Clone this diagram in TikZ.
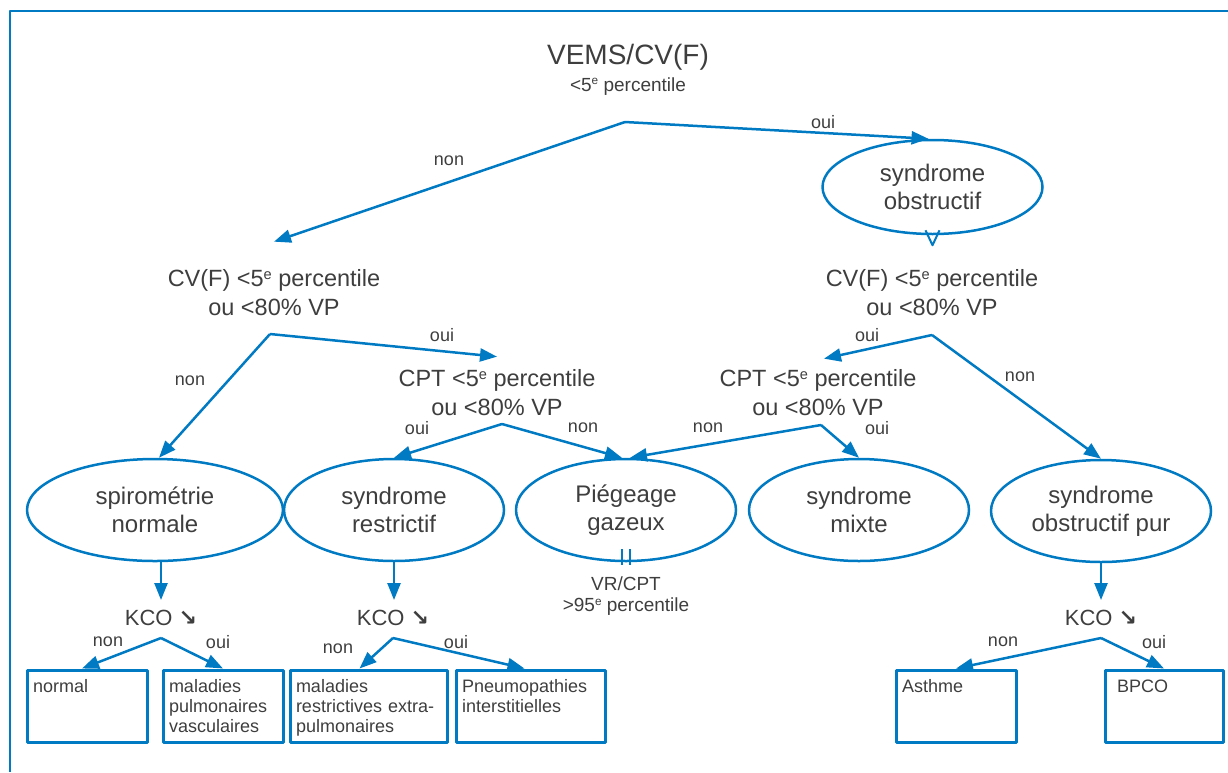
\documentclass[tikz,border=0pt]{standalone}
\usepackage{fontspec}
\setmainfont{Liberation Sans}
\newfontfamily\arrowfont{DejaVu Sans}
\usetikzlibrary{arrows.meta,positioning,shapes.geometric}
\definecolor{lineblue}{RGB}{0,122,194}
\definecolor{ink}{RGB}{62,62,62}
\newcommand{\ordsup}[1]{\raisebox{0.62ex}{\scalebox{0.62}{#1}}}

\begin{document}
\begin{tikzpicture}
    [x=1pt, y=-1pt, line join=round,
    % STYLES
    every node/.style={text=ink, inner sep=0pt},
    % The title style is used for the first test
    title/.style={font=\fontsize{28}{32}\selectfont},
    % The test style is used for the questions of the tree
    test/.style={align=center, font=\fontsize{23.5}{29}\selectfont},
    % The note style is used for the small comments
    note/.style={align=center, font=\fontsize{19}{21}\selectfont},
    % The answer style is used for the oui/non labels
    answer/.style={font=\fontsize{18}{20}\selectfont},
    % The syndrome style is used to draw the ellipses
    syndrome/.style={ellipse, draw=lineblue, line width=2.5pt, minimum width=220pt, minimum height=102pt, align=center, font=\fontsize{24}{28}\selectfont},
    kco/.style={font=\fontsize{22}{24}\selectfont},
    % The disease style is used to draw the final boxes
    disease/.style={rectangle, draw=lineblue, line width=3pt, anchor=north west, align=left, text width=#1, inner xsep=6pt, inner ysep=4pt, text height=18pt, text depth=46pt, font=\fontsize{18}{20}\selectfont},
    link/.style={lineblue, line width=2.5pt, -{Triangle[length=17pt,width=13pt]}}]

    \useasboundingbox (0,0) rectangle (1228,772);
    \draw[lineblue, line width=2pt] (10,772) -- (10,11) -- (1228,11);

    % Draw tests
    \node [title] (vems) at (628,57) {VEMS/CV(F)};
    \node [note, below=7pt of vems] (vemsp) {<5\ordsup{e} percentile};
    \node [test] (cvl) at (274,293) {CV(F) <5\ordsup{e} percentile\\ou <80\% VP};
    \node [test] (cvr) at (932,293) {CV(F) <5\ordsup{e} percentile\\ou <80\% VP};
    \node [test] (cptl) at (497,393) {CPT <5\ordsup{e} percentile\\ou <80\% VP};
    \node [test] (cptr) at (818,393) {CPT <5\ordsup{e} percentile\\ou <80\% VP};

    % Draw syndromes
    \node [syndrome, minimum width=220pt, minimum height=94pt] (obs) at (932.5,187) {syndrome\\obstructif};
    \node [syndrome, minimum width=256pt] (spiro) at (155,510) {spirométrie\\normale};
    \node [syndrome] (restr) at (394,510) {syndrome\\restrictif};
    \node [syndrome] (pieg) at (626,510) {Piégeage\\gazeux};
    \node [syndrome] (mixte) at (859,510) {syndrome\\mixte};
    \node [syndrome] (obspur) at (1101,511) {syndrome\\obstructif pur};
    \node [note, below=14pt of pieg] (vrcpt) {VR/CPT\\>95\ordsup{e} percentile};

    % Draw KCO tests
    \node [kco] (kco1) at (161,618) {KCO {\arrowfont\bfseries ↘}};
    \node [kco] (kco2) at (393,618) {KCO {\arrowfont\bfseries ↘}};
    \node [kco] (kco3) at (1101,618) {KCO {\arrowfont\bfseries ↘}};

    % Draw diseases
    \node [disease=108pt] (nrm) at (25.5,668.5) {normal};
    \node [disease=108pt] (pvs) at (161.5,668.5) {maladies\\pulmonaires\\vasculaires};
    \node [disease=145pt] (rex) at (288.5,668.5) {maladies\\restrictives extra-\\pulmonaires};
    \node [disease=137pt] (pin) at (454.5,668.5) {Pneumopathies\\interstitielles};
    \node [disease=108pt] (ast) at (894.5,668.5) {Asthme};
    \node [disease=106pt] (bpc) at (1103.5,668.5) {\hspace{6pt}BPCO};

    % Branch points
    \coordinate (b0) at (625,122);
    \coordinate (b1) at (270,334);
    \coordinate (b2) at (932,335);
    \coordinate (b3) at (502,424);
    \coordinate (b4) at (821,425);
    \coordinate (k1) at (161,638);
    \coordinate (k2) at (393,638);
    \coordinate (k3) at (1101,638);

    % Draw answers
    \node [answer] (a0n) at (449,161) {non};
    \node [answer] (a0o) at (823,122) {oui};
    \node [answer] (a1n) at (190,381) {non};
    \node [answer] (a1o) at (442,335) {oui};
    \node [answer] (a2o) at (867,335) {oui};
    \node [answer] (a2n) at (1020,377) {non};
    \node [answer] (a3o) at (417,428) {oui};
    \node [answer] (a3n) at (583,428) {non};
    \node [answer] (a4n) at (708,428) {non};
    \node [answer] (a4o) at (877,428) {oui};
    \node [answer] (k1n) at (108,642) {non};
    \node [answer] (k1o) at (218,642) {oui};
    \node [answer] (k2n) at (338,649) {non};
    \node [answer] (k2o) at (456,642) {oui};
    \node [answer] (k3n) at (1003,642) {non};
    \node [answer] (k3o) at (1154,642) {oui};

    \path[link]
    (b0) edge ([yshift=28pt]cvl.north)
    (b0) edge ([xshift=-4pt]obs.north)
    (b1) edge ([xshift=4pt]spiro.north)
    (b1) edge ([yshift=13pt]cptl.north)
    (b2) edge ([xshift=6pt,yshift=11pt]cptr.north)
    (b2) edge (obspur.north)
    (b3) edge (restr.north)
    (b3) edge ([xshift=-4pt]pieg.north)
    (b4) edge ([xshift=4pt]pieg.north)
    (b4) edge (mixte.north)
    ([xshift=6pt]spiro.south) edge ([xshift=6pt,yshift=10pt]spiro.south |- kco1.north)
    (restr.south) edge ([yshift=10pt]restr.south |- kco2.north)
    (obspur.south) edge ([yshift=10pt]obspur.south |- kco3.north)
    (k1) edge ([xshift=-5pt]nrm.north)
    (k1) edge (pvs.north)
    (k2) edge ([xshift=-9pt]rex.north)
    (k2) edge ([xshift=-6pt]pin.north)
    (k3) edge (ast.north)
    (k3) edge (bpc.north);

    % Marks on the ellipses
    \draw[lineblue, line width=2pt] ([xshift=-7pt,yshift=5pt]obs.south) -- ([yshift=-10pt]obs.south) -- ([xshift=7pt,yshift=5pt]obs.south);
    \draw[lineblue, line width=2.5pt]
    ([xshift=-4pt,yshift=13pt]pieg.south) -- ([xshift=-4pt,yshift=-3pt]pieg.south)
    ([xshift=4pt,yshift=13pt]pieg.south) -- ([xshift=4pt,yshift=-3pt]pieg.south);
    \end{tikzpicture}
\end{document}
